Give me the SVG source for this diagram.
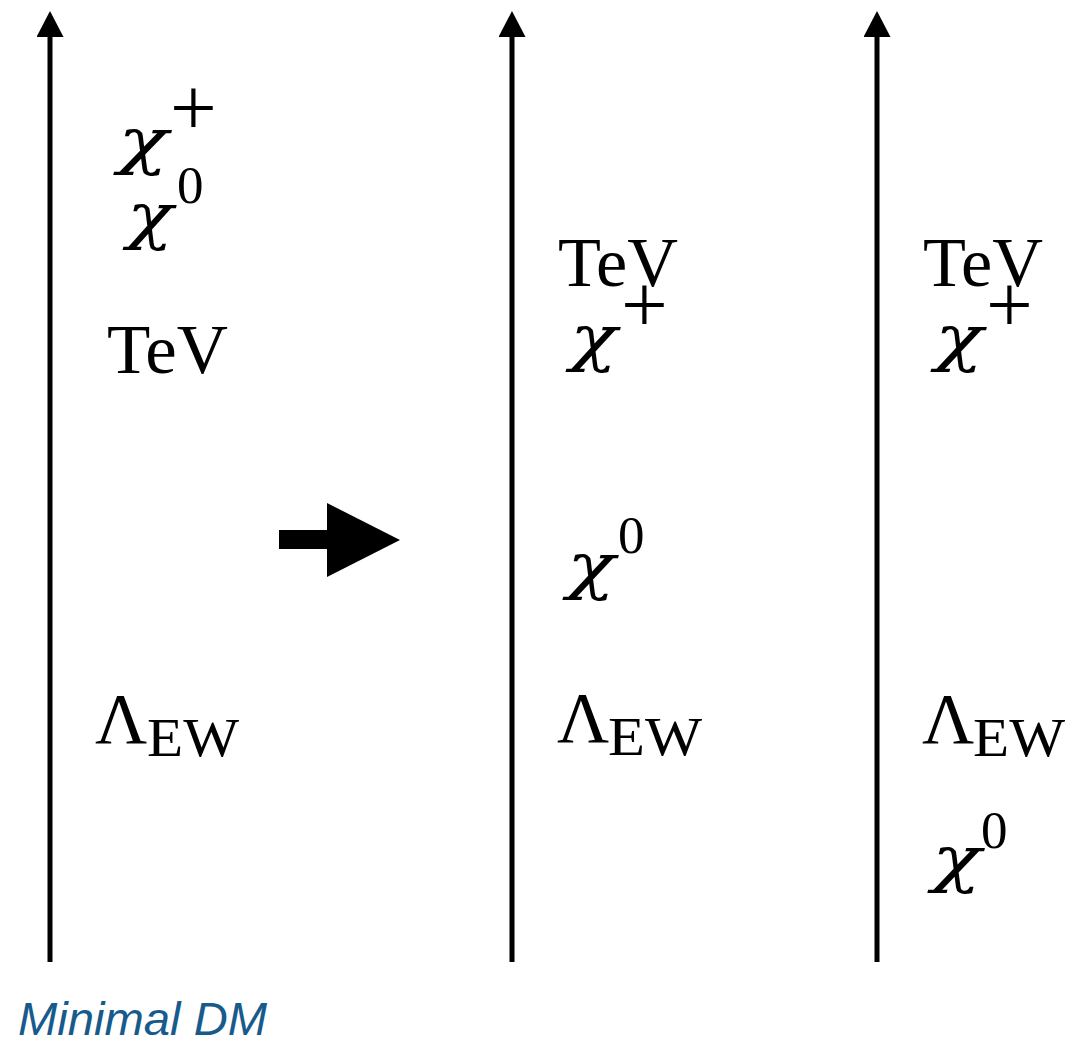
<svg xmlns="http://www.w3.org/2000/svg" width="1074" height="1045" viewBox="0 0 1074 1045">
<style>
.ax{stroke:#000;stroke-width:5;fill:none}
.rm{font-family:"Liberation Serif","DejaVu Serif",serif;fill:#000}
.chi{font-family:"DejaVu Serif",serif;font-style:italic;font-size:62px;fill:#000}
.tev{font-size:69px}
.lam{font-size:72px}
.ew{font-size:54px}
.plus{font-size:83px}
.zero{font-size:53px}
.cap{font-family:"Liberation Sans",Arial,sans-serif;font-style:italic;font-size:46px;fill:#175a8c}
</style>
<defs>
<marker id="ah" markerUnits="userSpaceOnUse" viewBox="0 0 26 27" markerWidth="26" markerHeight="27" refX="2" refY="13.5" orient="auto">
<path d="M0,0 L26,13.5 L0,27 z" fill="#000"/>
</marker>
</defs>
<g id="connectors">
<line class="ax" x1="50" y1="962" x2="50" y2="35" marker-end="url(#ah)"/>
<line class="ax" x1="512" y1="962" x2="512" y2="35" marker-end="url(#ah)"/>
<line class="ax" x1="877" y1="962" x2="877" y2="35" marker-end="url(#ah)"/>
<polygon points="279,530 327,530 327,503 400,540 327,577 327,549 279,549" fill="#000"/>
</g>
<g id="col1">
<text class="chi" x="118" y="162" textLength="50" lengthAdjust="spacingAndGlyphs">χ</text>
<text class="rm plus" x="170" y="135">+</text>
<text class="rm zero" x="177" y="203">0</text>
<text class="chi" x="127" y="237" textLength="46" lengthAdjust="spacingAndGlyphs">χ</text>
<text class="rm tev" x="107" y="373" textLength="121" lengthAdjust="spacingAndGlyphs">TeV</text>
<text class="rm lam" x="95" y="743">Λ</text>
<text class="rm ew" x="147" y="756" textLength="92" lengthAdjust="spacingAndGlyphs">EW</text>
</g>
<g id="col2">
<text class="rm tev" x="558" y="286" textLength="120" lengthAdjust="spacingAndGlyphs">TeV</text>
<text class="chi" x="570" y="359" textLength="47" lengthAdjust="spacingAndGlyphs">χ</text>
<text class="rm plus" x="621" y="332">+</text>
<text class="chi" x="567" y="587" textLength="48" lengthAdjust="spacingAndGlyphs">χ</text>
<text class="rm zero" x="618" y="553">0</text>
<text class="rm lam" x="557" y="742">Λ</text>
<text class="rm ew" x="608" y="755" textLength="94" lengthAdjust="spacingAndGlyphs">EW</text>
</g>
<g id="col3">
<text class="rm tev" x="923" y="286" textLength="120" lengthAdjust="spacingAndGlyphs">TeV</text>
<text class="chi" x="935" y="359" textLength="48" lengthAdjust="spacingAndGlyphs">χ</text>
<text class="rm plus" x="986" y="332">+</text>
<text class="rm lam" x="922" y="743">Λ</text>
<text class="rm ew" x="973" y="756" textLength="92" lengthAdjust="spacingAndGlyphs">EW</text>
<text class="chi" x="932" y="880" textLength="49" lengthAdjust="spacingAndGlyphs">χ</text>
<text class="rm zero" x="981" y="848">0</text>
</g>
<g id="caption">
<text class="cap" x="18" y="1035" textLength="249" lengthAdjust="spacingAndGlyphs">Minimal DM</text>
</g>
</svg>
